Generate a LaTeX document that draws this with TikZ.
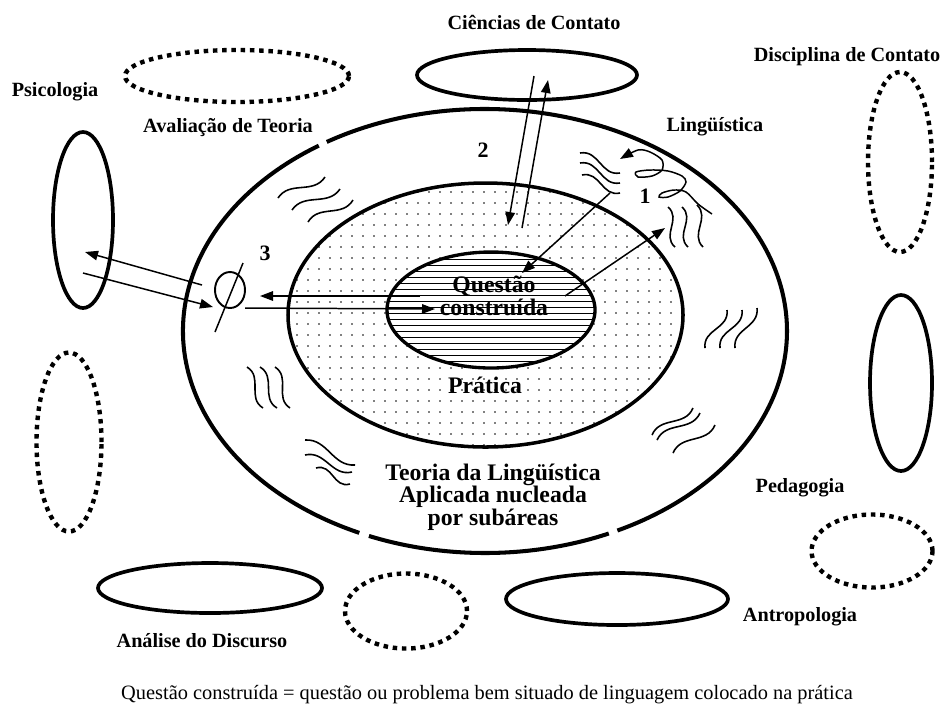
\documentclass[tikz,border=0pt]{standalone}
\usepackage{fontspec}
\setmainfont{Liberation Serif}
\usetikzlibrary{arrows.meta,shapes.geometric,patterns.meta,calc}

\newcommand\squig[2]{\draw[wavy] (#1) .. controls ($(#1)!0.35!(#2)!2.3mm!90:(#2)$) and ($(#1)!0.65!(#2)!2.3mm!-90:(#2)$) .. (#2);}

\begin{document}
\begin{tikzpicture}[x=0.2mm,y=-0.2mm,>={Triangle[length=2.6mm,width=1.9mm]},
  solid ell/.style={ellipse, draw, line width=2.1pt, inner sep=0pt},
  dot ell/.style={ellipse, draw, line width=2.5pt, dash pattern=on 0.9mm off 0.95mm, inner sep=0pt},
  lab/.style={font=\fontsize{11.5}{13}\selectfont\bfseries},
  core/.style={font=\fontsize{13.5}{12.8}\selectfont\bfseries, align=center},
  arr/.style={line width=0.85pt},
  wavy/.style={line width=0.9pt}]
\useasboundingbox (0,0) rectangle (940,709);

% fields around the core
\node[solid ell, minimum width=44mm, minimum height=10mm] (cien) at (527,75) {};
\node[dot ell, minimum width=44.8mm, minimum height=10.4mm] (aval) at (237,76) {};
\node[solid ell, minimum width=12mm, minimum height=35.2mm] (psico) at (83,220) {};
\node[dot ell, minimum width=13mm, minimum height=35.8mm] (esq) at (69,442) {};
\node[dot ell, minimum width=12.8mm, minimum height=36mm] (discip) at (900,162) {};
\node[solid ell, minimum width=12.4mm, minimum height=35.2mm] (pedag) at (901,383) {};
\node[solid ell, minimum width=44.8mm, minimum height=10mm] (analise) at (210,588) {};
\node[dot ell, minimum width=24.4mm, minimum height=15mm] (baixo) at (406,611) {};
\node[solid ell, minimum width=44.4mm, minimum height=10.4mm] (antrop) at (617,599) {};
\node[dot ell, minimum width=24.2mm, minimum height=14.6mm] (dir) at (872,551) {};

\node[lab] (lcien) at (534,22) {Ciências de Contato};
\node[lab] (lpsico) at (55,92) {Psicologia};
\node[lab] (laval) at (228,128) {Avaliação de Teoria};
\node[lab] (lling) at (715,127) {Lingüística};
\node[lab] (ldiscip) at (847,57) {Disciplina de Contato};
\node[lab] (lpedag) at (800,488) {Pedagogia};
\node[lab] (lantrop) at (800,617) {Antropologia};
\node[lab] (lanalise) at (202,641) {Análise do Discurso};

% the three rings
\draw[line width=2.3pt] (485,331) ++(65.8:302 and 222) arc[start angle=65.8, end angle=112.6, x radius=302, y radius=222];
\draw[line width=2.3pt] (485,331) ++(114.6:302 and 222) arc[start angle=114.6, end angle=236.6, x radius=302, y radius=222];
\draw[line width=2.3pt] (485,331) ++(238.4:302 and 222) arc[start angle=238.4, end angle=424, x radius=302, y radius=222];
\fill[pattern={Dots[distance=2.2mm,radius=0.55pt]}] (485.5,315) ellipse [x radius=197.5, y radius=132];
\draw[line width=2pt] (485.5,315) ellipse [x radius=197.5, y radius=132];
\fill[white] (491,310) ellipse [x radius=104, y radius=58];
\fill[pattern={Lines[distance=1.2mm,line width=0.55pt]}] (491,310) ellipse [x radius=104, y radius=58];
\draw[line width=1.9pt] (491,310) ellipse [x radius=104, y radius=58];

\node[core] (quest) at (494,296) {Questão\\construída};
\node[core] (prat) at (485,385) {Prática};
\node[core] (teoria) at (493,497) {Teoria da Lingüística\\Aplicada nucleada\\por subáreas};
\node[font=\fontsize{11.6}{13}\selectfont] (nota) at (487,695) {Questão construída = questão ou problema bem situado de linguagem colocado na prática};

\node[lab, font=\fontsize{12.5}{14}\selectfont\bfseries] (n1) at (645,196) {1};
\node[lab, font=\fontsize{12.5}{14}\selectfont\bfseries] (n2) at (483,150) {2};
\node[lab, font=\fontsize{12.5}{14}\selectfont\bfseries] (n3) at (265,253) {3};

% movements
\coordinate (a2) at (534,76); \coordinate (b2) at (508,225);
\coordinate (c2) at (522,228); \coordinate (d2) at (548,80);
\coordinate (a1) at (610,193); \coordinate (b1) at (522,273);
\coordinate (c1) at (565,296); \coordinate (d1) at (665,228);
\coordinate (a3) at (420,296); \coordinate (b3) at (260,296);
\coordinate (c3) at (245,308); \coordinate (d3) at (435,309);
\coordinate (ap) at (202,285); \coordinate (bp) at (85,252);
\coordinate (cp) at (83,273); \coordinate (dp) at (213,307);
\draw[->,arr] (a2) -- (b2);
\draw[->,arr] (c2) -- (d2);
\draw[->,arr] (a1) -- (b1);
\draw[->,arr] (c1) -- (d1);
\draw[->,arr] (a3) -- (b3);
\draw[->,arr] (c3) -- (d3);
\draw[->,arr] (ap) -- (bp);
\draw[->,arr] (cp) -- (dp);

\node[ellipse, draw, line width=1.1pt, minimum width=6mm, minimum height=7.2mm, inner sep=0pt] (phi) at (230,290) {};
\draw[arr] ($(phi)+(13,-27)$) -- ($(phi)+(-15,42)$);

\draw[->,arr] plot[smooth, tension=0.5] coordinates {(712,214) (698,204) (686,192) (674,190) (662,193) (659,197) (668,197) (680,191) (686,182) (682,176) (668,171) (650,170) (636,172) (638,177) (652,176) (662,170) (662,160) (650,152) (638,150) (620,159)};

% waves
\foreach \xa/\ya/\xb/\yb in {278/198/325/177, 292/210/340/189, 308/222/353/200,
    580/153/620/173, 580/163/620/183, 582/175/620/193,
    668/207/675/247, 682/207/688/247, 697/205/703/247,
    727/310/705/348, 742/310/720/348, 757/308/735/348,
    652/435/693/408, 657/440/700/413, 673/453/715/425,
    247/367/263/408, 260/367/277/408, 275/367/290/408,
    305/440/355/465, 305/455/352/472, 316/468/350/484}
  {\squig{\xa,\ya}{\xb,\yb}}
\end{tikzpicture}
\end{document}
